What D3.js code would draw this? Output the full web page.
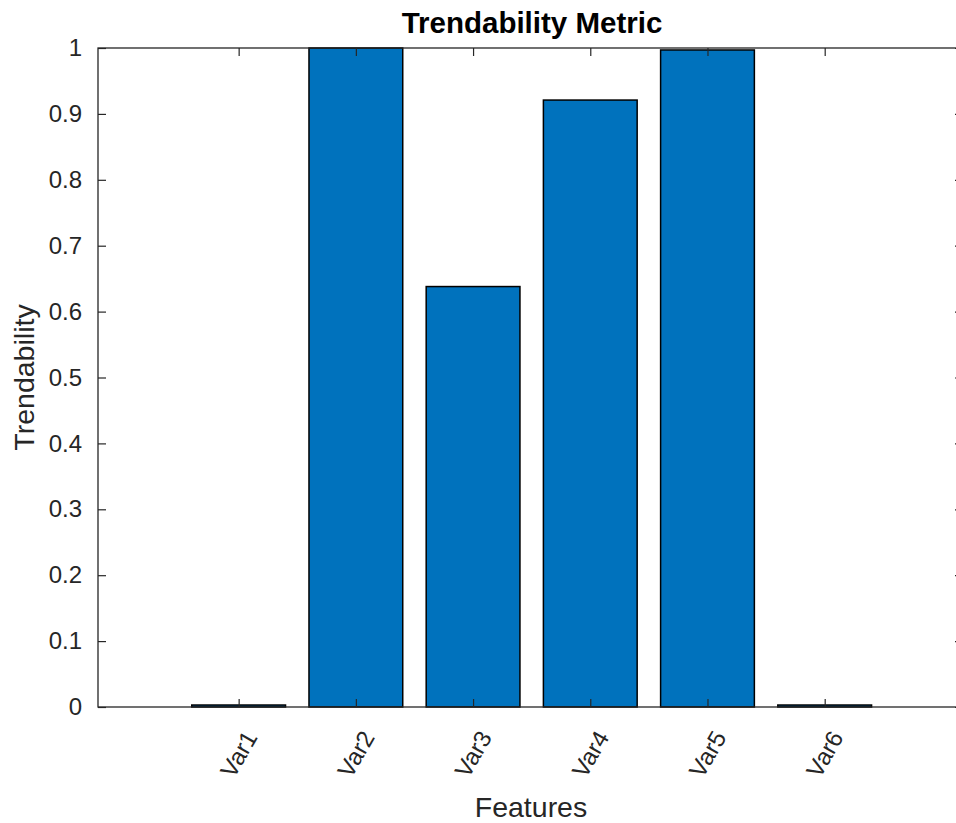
<!DOCTYPE html>
<html>
<head>
<meta charset="utf-8">
<script src="https://cdn.jsdelivr.net/npm/d3@7"></script>
<style>
  html, body { margin: 0; padding: 0; background: #ffffff; }
  svg { display: block; }
  text { font-family: "Liberation Sans", Arial, Helvetica, sans-serif; }
</style>
</head>
<body>
<svg id="chart" width="956" height="823"></svg>
<script>
// ---- data ----
const categories = ["Var1", "Var2", "Var3", "Var4", "Var5", "Var6"];
const trendability = [0.003, 1.0, 0.638, 0.921, 0.997, 0.003];
const yTicks = [0, 0.1, 0.2, 0.3, 0.4, 0.5, 0.6, 0.7, 0.8, 0.9, 1];
const yTickLabels = ["0", "0.1", "0.2", "0.3", "0.4", "0.5", "0.6", "0.7", "0.8", "0.9", "1"];
const titleText = "Trendability Metric";
const xLabelText = "Features";
const yLabelText = "Trendability";

// ---- layout ----
const plotL = 98, plotR = 963, plotT = 48, plotB = 707;
const axisColor = "#262626";
const tickLen = 8;

const svg = d3.select("#chart");

const positions = categories.map((c, i) => i + 1);
const x = d3.scaleLinear().domain([-0.2, 7.18]).range([plotL, plotR]);
const y = d3.scaleLinear().domain([0, 1]).range([plotB, plotT]);
const barW = (x(1) - x(0)) * 0.8;

// bars
svg.append("g").selectAll("rect")
  .data(trendability)
  .join("rect")
  .attr("x", (d, i) => x(positions[i]) - barW / 2)
  .attr("y", d => y(d))
  .attr("width", barW)
  .attr("height", d => y(0) - y(d))
  .attr("fill", "#0072BD")
  .attr("stroke", "#000000")
  .attr("stroke-width", 1.5);

// axes
const styleAxis = g => {
  g.select(".domain").remove();
  g.selectAll(".tick line").attr("stroke", axisColor).attr("stroke-width", 1.2);
  g.selectAll(".tick text").attr("fill", axisColor);
};

svg.append("g").attr("transform", `translate(0,${plotB})`)
  .call(d3.axisBottom(x).tickValues(positions).tickSizeInner(-tickLen).tickSizeOuter(0).tickFormat(""))
  .call(styleAxis);
svg.append("g").attr("transform", `translate(0,${plotT})`)
  .call(d3.axisTop(x).tickValues(positions).tickSizeInner(-tickLen).tickSizeOuter(0).tickFormat(""))
  .call(styleAxis);
const gy = svg.append("g").attr("transform", `translate(${plotL},0)`)
  .call(d3.axisLeft(y).tickValues(yTicks).tickSizeInner(-tickLen).tickSizeOuter(0)
    .tickPadding(8 + tickLen).tickFormat((d, i) => yTickLabels[i]))
  .call(styleAxis);
gy.selectAll(".tick text")
  .attr("font-size", 24)
  .attr("font-family", "Liberation Sans, Arial, sans-serif");
svg.append("g").attr("transform", `translate(${plotR},0)`)
  .call(d3.axisRight(y).tickValues(yTicks).tickSizeInner(-tickLen).tickSizeOuter(0).tickFormat(""))
  .call(styleAxis);

// x tick labels (rotated)
svg.append("g").selectAll("text")
  .data(categories)
  .join("text")
  .attr("transform", (d, i) => `translate(${x(positions[i])},${plotB + 47}) rotate(-60)`)
  .attr("text-anchor", "middle")
  .attr("dominant-baseline", "central")
  .attr("font-size", 24)
  .attr("fill", axisColor)
  .text(d => d);

// box
svg.append("rect")
  .attr("x", plotL).attr("y", plotT)
  .attr("width", plotR - plotL).attr("height", plotB - plotT)
  .attr("fill", "none")
  .attr("stroke", axisColor)
  .attr("stroke-width", 1.3);

// title
svg.append("text")
  .attr("x", (plotL + plotR) / 2 + 1.5)
  .attr("y", 33)
  .attr("text-anchor", "middle")
  .attr("font-size", 29.5)
  .attr("font-weight", "bold")
  .attr("fill", "#000000")
  .text(titleText);

// x label
svg.append("text")
  .attr("x", (plotL + plotR) / 2 + 0.5)
  .attr("y", 817)
  .attr("text-anchor", "middle")
  .attr("font-size", 28.5)
  .attr("fill", axisColor)
  .text(xLabelText);

// y label
svg.append("text")
  .attr("transform", `translate(34,${(plotT + plotB) / 2}) rotate(-90)`)
  .attr("text-anchor", "middle")
  .attr("font-size", 28.5)
  .attr("fill", axisColor)
  .text(yLabelText);
</script>
</body>
</html>
